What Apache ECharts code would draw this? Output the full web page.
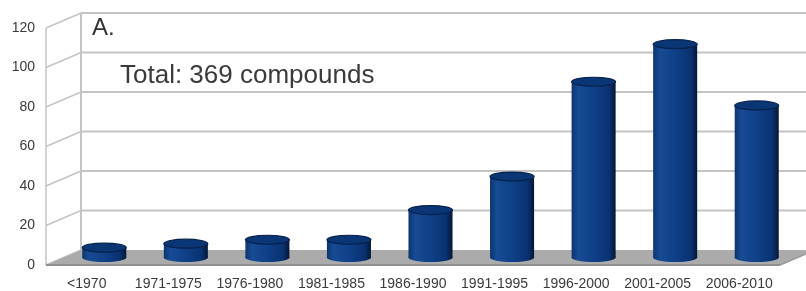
<!DOCTYPE html>
<html><head><meta charset="utf-8">
<script src="https://cdn.jsdelivr.net/npm/echarts@6/dist/echarts.min.js"></script>
<style>html,body{margin:0;padding:0;background:#fff}#c{width:806px;height:291px}</style>
</head><body><div id="c"></div>
<script>
const categories = ['<1970','1971-1975','1976-1980','1981-1985','1986-1990','1991-1995','1996-2000','2001-2005','2006-2010'];
const counts = [5, 7, 9, 9, 24, 41, 89, 108, 77];
const yTicks = [0, 20, 40, 60, 80, 100, 120];
const panelLabel = 'A.';
const totalLabel = 'Total: 369 compounds';

const DX = 35, DY = -15;
const FONT = "'Liberation Sans', Arial, sans-serif";

function renderFrame(params, api) {
  const cs = params.coordSys;
  const x0 = cs.x, x1 = cs.x + cs.width;
  const y0 = api.coord([0, 0])[1];
  const yTop = api.coord([0, yTicks[yTicks.length - 1]])[1];
  const ch = [];
  const gl = {stroke: '#c4c4c4', lineWidth: 2};
  yTicks.forEach(v => {
    const y = api.coord([0, v])[1];
    if (v > 0) ch.push({type: 'line', shape: {x1: x0 + DX, y1: y + DY, x2: x1 + DX, y2: y + DY}, style: gl});
    ch.push({type: 'line', shape: {x1: x0, y1: y, x2: x0 + DX, y2: y + DY}, style: {stroke: '#c4c4c4', lineWidth: 1.5}});
  });
  ch.push({type: 'line', shape: {x1: x0, y1: yTop, x2: x0, y2: y0}, style: {stroke: '#c4c4c4', lineWidth: 1.5}});
  ch.push({type: 'line', shape: {x1: x0 + DX, y1: yTop + DY, x2: x0 + DX, y2: y0 + DY}, style: {stroke: '#c4c4c4', lineWidth: 2}});
  ch.push({type: 'polygon', shape: {points: [[x0, y0], [x1, y0], [x1 + DX, y0 + DY], [x0 + DX, y0 + DY]]}, style: {fill: '#ababab'}});
  ch.push({type: 'line', shape: {x1: x0, y1: y0, x2: x1, y2: y0}, style: {stroke: '#8e8e8e', lineWidth: 2}});
  ch.push({type: 'line', shape: {x1: x1, y1: y0, x2: x1 + DX, y2: y0 + DY}, style: {stroke: '#9a9a9a', lineWidth: 1.5}});
  return {type: 'group', children: ch};
}

function renderBar(params, api) {
  const i = api.value(0), v = api.value(1);
  const top = api.coord([i, v]);
  const base = api.coord([i, 0]);
  const band = api.size([1, 0])[0];
  const rx = band * 0.27, ry = 4.5;
  const cx = top[0] + DX / 2;
  const yt = top[1] + DY / 2;
  const yb = base[1] + DY / 2;
  const grad = new echarts.graphic.LinearGradient(0, 0, 1, 0, [
    {offset: 0, color: '#0c3570'},
    {offset: 0.15, color: '#174b94'},
    {offset: 0.5, color: '#0f4088'},
    {offset: 0.85, color: '#0a3272'},
    {offset: 1, color: '#041735'}
  ]);
  return {type: 'group', children: [
    {type: 'ellipse', shape: {cx: cx, cy: yb, rx: rx, ry: ry}, style: {fill: grad}},
    {type: 'rect', shape: {x: cx - rx, y: yt, width: 2 * rx, height: yb - yt}, style: {fill: grad}},
    {type: 'ellipse', shape: {cx: cx, cy: yt, rx: rx, ry: ry}, style: {fill: '#0b3675', stroke: '#06214b', lineWidth: 1.2}}
  ]};
}

const chart = echarts.init(document.getElementById('c'), null, {renderer: 'canvas'});
chart.setOption({
  animation: false,
  backgroundColor: '#ffffff',
  grid: {left: 46, right: 26, top: 28, bottom: 23},
  xAxis: {
    type: 'category', data: categories,
    axisLine: {show: false}, axisTick: {show: false},
    axisLabel: {color: '#3a3a3a', fontSize: 14, fontFamily: FONT, margin: 12, interval: 0}
  },
  yAxis: {
    type: 'value', min: 0, max: 120, interval: 20,
    axisLine: {show: false}, axisTick: {show: false}, splitLine: {show: false},
    axisLabel: {color: '#3a3a3a', fontSize: 14, fontFamily: FONT, margin: 11}
  },
  graphic: [
    {type: 'text', left: 92, top: 16, style: {text: panelLabel, fontSize: 24, fontFamily: FONT, fill: '#333'}},
    {type: 'text', left: 120, top: 63, style: {text: totalLabel, fontSize: 26, fontFamily: FONT, fill: '#3a3a3a'}}
  ],
  series: [
    {type: 'custom', renderItem: renderFrame, data: [[0, 0]], clip: false, z: 1, silent: true},
    {type: 'custom', renderItem: renderBar, data: counts.map((c, i) => [i, c]), clip: false, z: 2,
     encode: {x: 0, y: 1}}
  ]
});
</script></body></html>
